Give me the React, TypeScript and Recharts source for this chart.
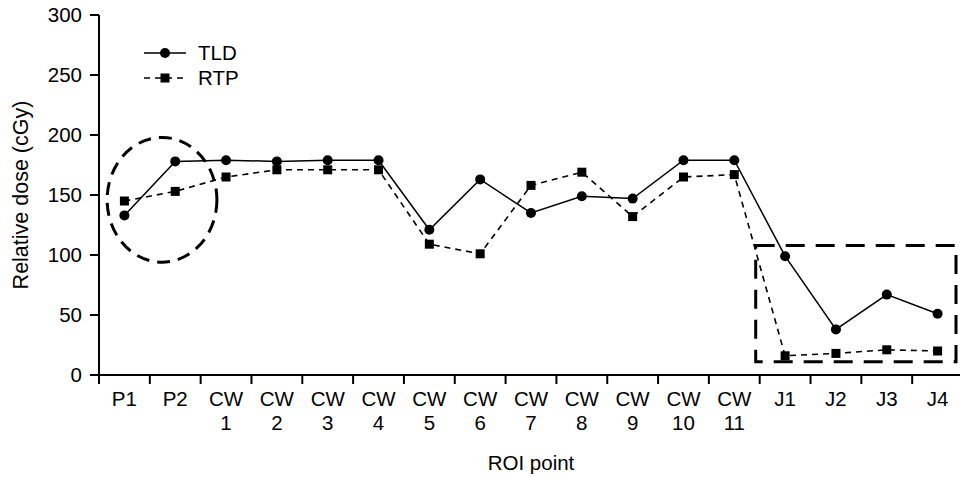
import {
  LineChart,
  Line,
  XAxis,
  YAxis,
  ReferenceArea,
  Legend,
  Label,
} from 'recharts'

const roiPoints = ['P1', 'P2', 'CW 1', 'CW 2', 'CW 3', 'CW 4', 'CW 5', 'CW 6', 'CW 7', 'CW 8', 'CW 9', 'CW 10', 'CW 11', 'J1', 'J2', 'J3', 'J4']
const tldDose = [133, 178, 179, 178, 179, 179, 121, 163, 135, 149, 147, 179, 179, 99, 38, 67, 51]
const rtpDose = [145, 153, 165, 171, 171, 171, 109, 101, 158, 169, 132, 165, 167, 16, 18, 21, 20]
const yTicks = [0, 50, 100, 150, 200, 250, 300]

const data = roiPoints.map((roi, i) => ({ roi, tld: tldDose[i], rtp: rtpDose[i] }))

const FONT = '"Liberation Sans", Arial, Helvetica, sans-serif'

function RoiTick(props: any) {
  const { x, y, payload } = props
  const half = payload.offset ?? 25.4
  const lines = String(payload.value).split(' ')
  return (
    <g>
      <line x1={x - half} y1={y} x2={x - half} y2={y + 9} stroke="#000" strokeWidth={2} />
      <text x={x} y={y + 31} textAnchor="middle" fontSize={20.5} fontFamily={FONT} fill="#000">
        {lines.map((l, i) => (
          <tspan key={i} x={x} dy={i ? 24 : 0}>{l}</tspan>
        ))}
      </text>
    </g>
  )
}

function Square(props: any) {
  const { cx, cy, index } = props
  if (cx == null || cy == null) return <g key={index} />
  return <rect key={index} x={cx - 4.5} y={cy - 4.5} width={9} height={9} fill="#000" />
}

function DashedEllipse(props: any) {
  const { x, y, width, height } = props
  return (
    <ellipse
      cx={x + width * 0.62}
      cy={y + height / 2}
      rx={width * 0.54}
      ry={height / 2}
      fill="none"
      stroke="#000"
      strokeWidth={3}
      strokeDasharray="13 8"
    />
  )
}

function DashedBox(props: any) {
  const { x, y, width, height } = props
  return (
    <rect
      x={x - 4}
      y={y}
      width={width - 3}
      height={height}
      fill="none"
      stroke="#000"
      strokeWidth={3}
      strokeDasharray="19 11"
    />
  )
}

function LegendBox() {
  const row = (label: string, dashed: boolean) => (
    <div style={{ display: 'flex', alignItems: 'center', height: 25 }}>
      <svg width={42} height={12} style={{ marginRight: 12 }}>
        <line x1={0} y1={6} x2={42} y2={6} stroke="#000" strokeWidth={1.6} strokeDasharray={dashed ? '6 5' : undefined} />
        {dashed ? <rect x={16.5} y={1.5} width={9} height={9} fill="#000" /> : <circle cx={21} cy={6} r={5} fill="#000" />}
      </svg>
      <span style={{ fontSize: 20.5, fontFamily: FONT, color: '#000', lineHeight: '20px' }}>{label}</span>
    </div>
  )
  return (
    <div>
      {row('TLD', false)}
      {row('RTP', true)}
    </div>
  )
}

export default function App() {
  return (
    <div style={{ position: 'absolute', left: 0, top: 0, width: 960, height: 478, overflow: 'hidden', background: '#fff' }}>
      <LineChart width={975} height={478} data={data} margin={{ top: 15, right: 12, bottom: 0, left: 10 }}>
        <XAxis
          dataKey="roi"
          scale="band"
          interval={0}
          height={103}
          tickSize={0}
          tickMargin={0}
          tickLine={false}
          axisLine={{ stroke: '#000', strokeWidth: 2 }}
          tick={<RoiTick />}
        >
          <Label value="ROI point" position="insideBottom" offset={8} style={{ fontSize: 20.5, fontFamily: FONT, fill: '#000' }} />
        </XAxis>
        <YAxis
          domain={[0, 300]}
          ticks={yTicks}
          width={89}
          tickSize={9}
          tickMargin={8}
          axisLine={{ stroke: '#000', strokeWidth: 2 }}
          tickLine={{ stroke: '#000', strokeWidth: 2 }}
          tick={{ fontSize: 20.5, fontFamily: FONT, fill: '#000' }}
        >
          <Label
            value="Relative dose (cGy)"
            angle={-90}
            position="insideLeft"
            offset={10}
            style={{ fontSize: 21.5, fontFamily: FONT, fill: '#000', textAnchor: 'middle' }}
          />
        </YAxis>
        <Legend
          verticalAlign="middle"
          align="center"
          layout="vertical"
          wrapperStyle={{ top: 40, left: 144, width: 'auto', height: 'auto' }}
          content={<LegendBox />}
        />
        <ReferenceArea x1="P1" x2="P2" y1={94} y2={198} shape={<DashedEllipse />} />
        <ReferenceArea x1="J1" x2="J4" y1={11} y2={108} shape={<DashedBox />} />
        <Line
          dataKey="rtp"
          stroke="#000"
          strokeWidth={1.6}
          strokeDasharray="6 5"
          dot={Square}
          activeDot={false}
          isAnimationActive={false}
        />
        <Line
          dataKey="tld"
          stroke="#000"
          strokeWidth={1.5}
          dot={{ r: 5, fill: '#000', stroke: '#000', strokeWidth: 0 }}
          activeDot={false}
          isAnimationActive={false}
        />
      </LineChart>
    </div>
  )
}
